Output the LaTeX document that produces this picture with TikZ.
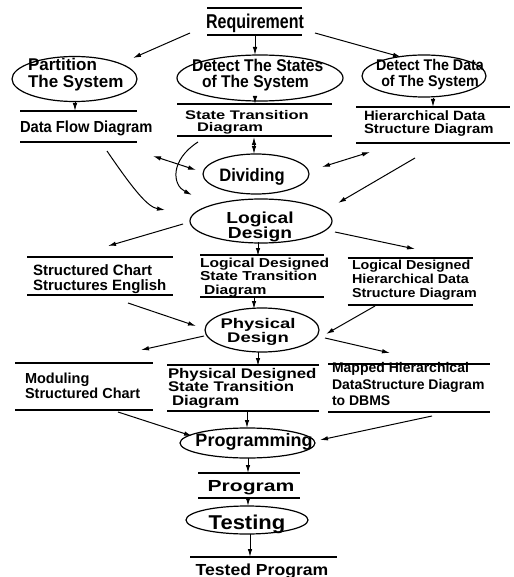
\documentclass[tikz,border=0pt]{standalone}
\usepackage{fontspec}
\usetikzlibrary{arrows.meta,shapes.geometric}
\setmainfont{Liberation Sans}
% Liberation Sans at several widths
\newfontfamily\fA[FakeStretch=0.80]{Liberation Sans}
\newfontfamily\fB[FakeStretch=0.92]{Liberation Sans}
\newfontfamily\fC{Liberation Sans}
\newfontfamily\fD[FakeStretch=1.10]{Liberation Sans}
\newfontfamily\fE[FakeStretch=1.20]{Liberation Sans}
\newfontfamily\fF[FakeStretch=1.32]{Liberation Sans}
\newcommand\fsz[2]{\fontsize{#1}{#2}\selectfont\bfseries}
% text block: left edge at dx from the node centre, first baseline raised by #2
\newcommand\txl[3]{\makebox[0pt][l]{\hspace*{#1pt}\raisebox{#2pt}[0pt][0pt]{\vtop{\let\\\cr\lineskiplimit=-100pt\lineskip=0pt\halign{##\hfil\cr#3\crcr}}}}}
% text block: centred at dx from the node centre
\newcommand\txc[3]{\makebox[0pt][c]{\hspace*{#1pt}\hspace*{#1pt}\raisebox{#2pt}[0pt][0pt]{\vtop{\let\\\cr\lineskiplimit=-100pt\lineskip=0pt\halign{\hfil##\hfil\cr#3\crcr}}}}}
\tikzset{
  sline/.style={draw, line width=1.2pt, -},
  store/.style={inner sep=0pt, outer sep=0pt,
    append after command={(\tikzlastnode.north west) edge[sline] (\tikzlastnode.north east)
                          (\tikzlastnode.south west) edge[sline] (\tikzlastnode.south east)}},
  storetop/.style={inner sep=0pt, outer sep=0pt,
    append after command={(\tikzlastnode.north west) edge[sline] (\tikzlastnode.north east)}},
  ell/.style={draw, ellipse, inner sep=0pt, outer sep=0pt, line width=1.2pt},
  arr/.style={-{Latex[length=8pt,width=4.5pt]}, line width=1pt},
  darr/.style={{Latex[length=8pt,width=4.5pt]}-{Latex[length=8pt,width=4.5pt]}, line width=1pt},
}
\begin{document}
\begin{tikzpicture}[x=1pt,y=-1pt]
\useasboundingbox[fill=white] (0,0) rectangle (513,577);

% ---- requirement and analysis ----
\node[store, minimum width=95pt, minimum height=27pt, font=\fA\fsz{20}{20}] (req) at (254.5,21.5)
  {\txc{0.5}{-7.5}{Requirement}};
\node[ell, minimum width=125pt, minimum height=45pt, font=\fC\fsz{17}{17}] (part) at (74.5,79)
  {\txl{-46.5}{8}{Partition\\The System}};
\node[ell, minimum width=166pt, minimum height=46pt, font=\fB\fsz{17}{16}] (dst) at (260,78)
  {\txl{-68}{6}{Detect The States\\\hspace*{10pt}of The System}};
\node[ell, minimum width=124pt, minimum height=42pt, font=\fB\fsz{15.5}{16}] (dda) at (424,76)
  {\txc{6}{5}{Detect The Data\\of The System}};

\node[store, minimum width=117pt, minimum height=31pt, font=\fB\fsz{16}{16}] (dfd) at (78.5,126.5)
  {\txl{-58.5}{-6}{Data Flow Diagram}};
\node[store, minimum width=155pt, minimum height=32pt, font=\fF\fsz{12.5}{12}] (std1) at (254.5,120)
  {\txl{-69.5}{0}{State Transition\\\hspace*{12pt}Diagram}};
\node[store, minimum width=154pt, minimum height=36pt, font=\fD\fsz{13.5}{13.5}] (hds1) at (433,125)
  {\txl{-69}{4.5}{Hierarchical Data\\Structure Diagram}};

\node[ell, minimum width=106pt, minimum height=40pt, font=\fB\fsz{18}{18}] (div) at (256,174)
  {\txc{-4}{-8}{Dividing}};
\node[ell, minimum width=142pt, minimum height=44pt, font=\fE\fsz{16}{15}] (logic) at (261,221)
  {\txc{-1}{-2}{Logical\\Design}};

% ---- logical design outputs ----
\node[store, minimum width=146pt, minimum height=38pt, font=\fC\fsz{15}{15}] (sce) at (100,276)
  {\txl{-67}{1}{Structured Chart\\Structures English}};
\node[store, minimum width=124pt, minimum height=42pt, font=\fE\fsz{13}{13.5}] (ldstd) at (262,276)
  {\txl{-62}{9}{Logical Designed\\State Transition\\\hspace*{4pt}Diagram}};
\node[store, minimum width=125pt, minimum height=47pt, font=\fD\fsz{13}{14}] (ldhds) at (410,281.5)
  {\txl{-58}{12.5}{Logical Designed\\Hierarchical Data\\Structure Diagram}};

\node[ell, minimum width=114pt, minimum height=44pt, font=\fF\fsz{14}{14}] (phys) at (262,330)
  {\txc{-4}{2}{Physical\\Design}};

% ---- physical design outputs ----
\node[store, minimum width=138pt, minimum height=47pt, font=\fC\fsz{14.5}{15}] (msc) at (84,386.5)
  {\txl{-59}{3.5}{Moduling\\Structured Chart}};
\node[store, minimum width=152pt, minimum height=46pt, font=\fE\fsz{14}{13.5}] (pdstd) at (243,388)
  {\txl{-75}{10}{Physical Designed\\State Transition\\\hspace*{4pt}Diagram}};
\node[store, minimum width=162pt, minimum height=48pt, font=\fC\fsz{14}{16.5}] (mapd) at (409,388)
  {\txl{-77}{15.5}{Mapped Hierarchical\\DataStructure Diagram\\to DBMS}};

% ---- implementation ----
\node[ell, minimum width=135pt, minimum height=30pt, font=\fC\fsz{18}{18}] (prog) at (247.5,443)
  {\txc{6.5}{-3}{Programming}};
\node[store, minimum width=102pt, minimum height=25pt, font=\fF\fsz{16}{16}] (pgm) at (249,485.5)
  {\txc{2}{-5.5}{Program}};
\node[ell, minimum width=122pt, minimum height=28pt, font=\fD\fsz{20}{20}] (test) at (247,520)
  {\txc{0}{-9}{Testing}};
\node[storetop, minimum width=147pt, minimum height=30pt, font=\fD\fsz{16}{16}] (tested) at (263.5,572)
  {\txc{-1.5}{-3}{Tested Program}};

% ---- connectors ----
\draw[arr] ([shift={(-64.5,11.5)}]req.center) -- ([shift={(58.5,-21)}]part.center);
\draw[arr] ([shift={(0.5,13.5)}]req.center) -- ([shift={(-5,-23)}]dst.center);
\draw[arr] ([shift={(60.5,11.5)}]req.center) -- ([shift={(-23,-19)}]dda.center);

\draw[arr] ([shift={(0.5,22)}]part.center) -- ([shift={(-3.5,-15.5)}]dfd.center);
\draw[arr] ([shift={(-5,19)}]dst.center) -- ([shift={(0.5,-16)}]std1.center);
\draw[arr] ([shift={(9,22)}]dda.center) -- ([shift={(0,-18)}]hds1.center);

\draw[darr] ([shift={(-0.5,17)}]std1.center) -- ([shift={(-2,-20)}]div.center);
\draw[darr] ([shift={(74.5,29.5)}]dfd.center) -- ([shift={(-60,-4)}]div.center);
\draw[darr] ([shift={(66,-7)}]div.center) -- ([shift={(-63,27)}]hds1.center);

\draw[arr] ([shift={(28.5,24.5)}]dfd.center) .. controls +(28,41) and +(-17,-3) .. ([shift={(-96,-11)}]logic.center);
\draw[arr] ([shift={(-56.5,22)}]std1.center) .. controls +(-28,18) and +(-20,-10) .. ([shift={(-69,-26)}]logic.center);
\draw[arr] ([shift={(-18,33)}]hds1.center) -- ([shift={(77,-18)}]logic.center);

\draw[arr] ([shift={(-78,3)}]logic.center) -- ([shift={(8,-30)}]sce.center);
\draw[arr] ([shift={(-3,21)}]logic.center) -- ([shift={(-4,-20)}]ldstd.center);
\draw[arr] ([shift={(74,11)}]logic.center) -- ([shift={(5,-32.5)}]ldhds.center);

\draw[arr] ([shift={(28,27)}]sce.center) -- ([shift={(-66,-4)}]phys.center);
\draw[arr] ([shift={(-8,21)}]ldstd.center) -- ([shift={(-8,-21)}]phys.center);
\draw[arr] ([shift={(-35,24.5)}]ldhds.center) -- ([shift={(64,4)}]phys.center);

\draw[arr] ([shift={(-58,6)}]phys.center) -- ([shift={(57,-36.5)}]msc.center);
\draw[arr] ([shift={(-4,22)}]phys.center) -- ([shift={(15,-22)}]pdstd.center);
\draw[arr] ([shift={(63,8)}]phys.center) -- ([shift={(-19,-35)}]mapd.center);

\draw[arr] ([shift={(34,25.5)}]msc.center) -- ([shift={(-55.5,-7)}]prog.center);
\draw[arr] ([shift={(4,23)}]pdstd.center) -- ([shift={(-0.5,-15)}]prog.center);
\draw[arr] ([shift={(23,28)}]mapd.center) -- ([shift={(72.5,-3)}]prog.center);

\draw[arr] ([shift={(0.5,15)}]prog.center) -- ([shift={(-1,-12.5)}]pgm.center);
\draw[arr] ([shift={(-1,12.5)}]pgm.center) -- ([shift={(1,-14)}]test.center);
\draw[arr] ([shift={(3,14)}]test.center) -- ([shift={(-13.5,-15)}]tested.center);
\end{tikzpicture}
\end{document}
